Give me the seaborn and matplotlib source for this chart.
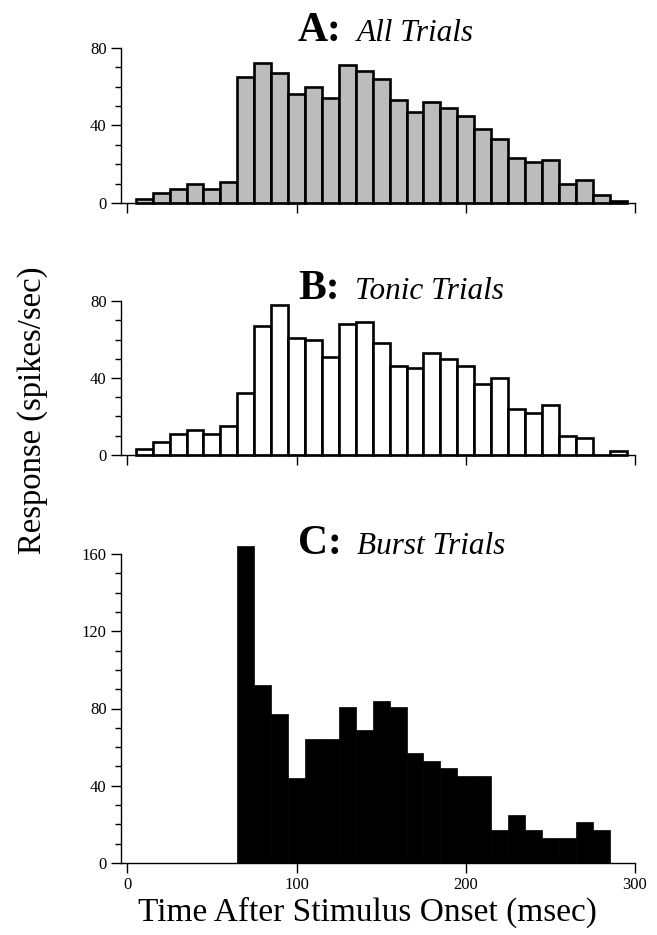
import numpy as np
import pandas as pd
import matplotlib
matplotlib.use('Agg')
import matplotlib.pyplot as plt
import seaborn as sns
from matplotlib.ticker import MultipleLocator

# PSTH data, 10 msec bins from 5 to 295 msec
bin_edges = list(range(5, 305, 10))
bin_centers = [e + 5 for e in bin_edges[:-1]]

all_trials = [2, 5, 7, 10, 7, 11, 65, 72, 67, 56, 60, 54, 71, 68, 64,
              53, 47, 52, 49, 45, 38, 33, 23, 21, 22, 10, 12, 4, 1]
tonic_trials = [3, 7, 11, 13, 11, 15, 32, 67, 78, 61, 60, 51, 68, 69, 58,
                46, 45, 53, 50, 46, 37, 40, 24, 22, 26, 10, 9, 0, 2]
burst_trials = [0, 0, 0, 0, 0, 0, 164, 92, 77, 44, 64, 64, 81, 69, 84,
                81, 57, 53, 49, 45, 45, 17, 25, 17, 13, 13, 21, 17, 0]

panel_letters = ['A:', 'B:', 'C:']
panel_names = ['All Trials', 'Tonic Trials', 'Burst Trials']
x_ticks = [0, 100, 200, 300]

sns.set_style('ticks')
plt.rcParams['font.family'] = ['Liberation Serif', 'DejaVu Serif']
plt.rcParams.update({'axes.linewidth': 1.0, 'text.color': 'black',
                     'axes.edgecolor': 'black', 'axes.labelcolor': 'black',
                     'xtick.color': 'black', 'ytick.color': 'black'})

fig = plt.figure(figsize=(6.57, 9.35), dpi=100)

W, H = 657, 935
left = 120.5 / W
width = (635 - 120.5) / W

def make_ax(top_px, bottom_px):
    return fig.add_axes([left, 1 - bottom_px / H, width, (bottom_px - top_px) / H])

axA = make_ax(48, 203)
axB = make_ax(301, 455)
axC = make_ax(554, 863)

df = pd.DataFrame({'t': bin_centers, 'n_all': all_trials,
                   'n_tonic': tonic_trials, 'n_burst': burst_trials})

sns.histplot(data=df, x='t', weights='n_all', bins=bin_edges, ax=axA,
             color='#bcbcbc', edgecolor='black', linewidth=1.9, alpha=1)
sns.histplot(data=df, x='t', weights='n_tonic', bins=bin_edges, ax=axB,
             color='white', edgecolor='black', linewidth=1.9, alpha=1)
sns.histplot(data=df, x='t', weights='n_burst', bins=bin_edges, ax=axC,
             color='black', edgecolor='black', linewidth=0.5, alpha=1)

for ax, ymax in [(axA, 80), (axB, 80), (axC, 160)]:
    ax.set_xlim(-4, 300)
    ax.set_ylim(0, ymax)
    ax.set_xticks(x_ticks)
    ax.yaxis.set_major_locator(MultipleLocator(40))
    ax.yaxis.set_minor_locator(MultipleLocator(10))
    ax.set_xlabel('')
    ax.set_ylabel('')
    sns.despine(ax=ax)
    ax.tick_params(axis='both', which='major', direction='out', length=7,
                   width=1, labelsize=12, pad=3)
    ax.tick_params(axis='y', which='minor', direction='out', length=4, width=1)
    for p in ax.patches:
        p.set_clip_on(False)

axA.set_xticklabels([])
axB.set_xticklabels([])

# panel titles: bold letter, then italic name on the same baseline
title_base = [41, 299, 554]
fig.canvas.draw()
renderer = fig.canvas.get_renderer()
for letter, name, yb in zip(panel_letters, panel_names, title_base):
    t = fig.text(298 / W, 1 - yb / H, letter, fontsize=30, fontweight='bold',
                 ha='left', va='baseline')
    x_end = t.get_window_extent(renderer).x1
    fig.text((x_end + 15) / W, 1 - yb / H, name, fontsize=22.5,
             fontstyle='italic', ha='left', va='baseline')

fig.text(33 / W, 1 - 410 / H, 'Response (spikes/sec)', rotation=90,
         fontsize=23.5, ha='center', va='center')
fig.text(367 / W, 1 - 912 / H, 'Time After Stimulus Onset (msec)',
         fontsize=24, ha='center', va='center')

fig.savefig('out.png', dpi=100)
